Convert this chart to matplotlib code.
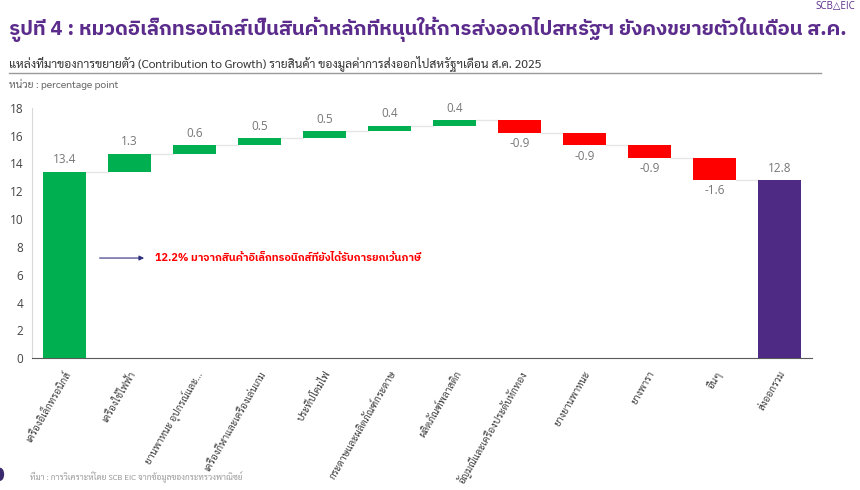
import matplotlib
matplotlib.use('Agg')
import matplotlib.pyplot as plt
from matplotlib.patches import Ellipse
import numpy as np

plt.rcParams['font.family'] = ['Sarabun', 'DejaVu Sans']

# ข้อมูล
categories = ['เครื่องอิเล็กทรอนิกส์', 'เครื่องใช้ไฟฟ้า', 'ยานพาหนะ อุปกรณ์และ...',
              'เครื่องกีฬาและเครื่องเล่นเกม', 'ประทีปโคมไฟ', 'กระดาษและผลิตภัณฑ์กระดาษ',
              'ผลิตภัณฑ์พลาสติก', 'อัญมณีและเครื่องประดับหักทอง', 'ยางยานพาหนะ',
              'ยางพารา', 'อื่นๆ', 'ส่งออกรวม']
values = [13.4, 1.3, 0.6, 0.5, 0.5, 0.4, 0.4, -0.9, -0.9, -0.9, -1.6, 12.8]
value_labels = ['13.4', '1.3', '0.6', '0.5', '0.5', '0.4', '0.4', '-0.9', '-0.9', '-0.9', '-1.6', '12.8']

title = 'รูปที่ 4 : หมวดอิเล็กทรอนิกส์เป็นสินค้าหลักที่หนุนให้การส่งออกไปสหรัฐฯ ยังคงขยายตัวในเดือน ส.ค.'
subtitle = 'แหล่งที่มาของการขยายตัว (Contribution to Growth) รายสินค้า ของมูลค่าการส่งออกไปสหรัฐฯเดือน ส.ค. 2025'
unit = 'หน่วย : percentage point'
note = '12.2% มาจากสินค้าอิเล็กทรอนิกส์ที่ยังได้รับการยกเว้นภาษี'
source = 'ที่มา : การวิเคราะห์โดย SCB EIC จากข้อมูลของกระทรวงพาณิชย์'

green = '#00b050'
red = '#ff0000'
purple = '#4e2a84'
num_font = ['Open Sans', 'DejaVu Sans']
bold_font = ['IBM Plex Sans Thai', 'DejaVu Sans']

fig = plt.figure(figsize=(8.6, 4.9), dpi=100)
ax = fig.add_axes([0.037, 0.269, 0.907, 0.511])

x = np.arange(len(values))
n = len(values)
# หาฐานของแต่ละแท่ง
bottoms = []
tops = []
run = 0.0
for i, v in enumerate(values):
    if i == n - 1:
        bottoms.append(0.0)
        tops.append(v)
    else:
        bottoms.append(min(run, run + v))
        tops.append(max(run, run + v))
        run = run + v
heights = [t - b for t, b in zip(tops, bottoms)]
colors = []
for i, v in enumerate(values):
    if i == n - 1:
        colors.append(purple)
    elif v >= 0:
        colors.append(green)
    else:
        colors.append(red)

w = 0.66
ax.bar(x, heights, bottom=bottoms, width=w, color=colors, zorder=3)

# เส้นเชื่อม
run = 0.0
for i in range(n - 1):
    run = run + values[i]
    ax.plot([x[i] + w / 2, x[i + 1] - w / 2], [run, run], color='#e6e6e6', lw=1, zorder=2)

# ป้ายตัวเลข
for i, v in enumerate(values):
    if v >= 0:
        ax.text(x[i], tops[i] + 0.4, value_labels[i], ha='center', va='bottom', fontsize=8.5,
                color='#777777', family=num_font)
    else:
        ax.text(x[i], bottoms[i] - 0.3, value_labels[i], ha='center', va='top', fontsize=8.5,
                color='#777777', family=num_font)

ax.set_xlim(-0.5, 11.5)
ax.set_ylim(0, 18)
ax.set_yticks(np.arange(0, 19, 2))
ax.tick_params(axis='y', length=0, labelsize=8.5, colors='#444444', pad=6)
for lb in ax.get_yticklabels():
    lb.set_family(num_font)
ax.set_xticks(x)
ax.set_xticklabels(categories, rotation=60, ha='right', rotation_mode='anchor', fontsize=7.2, color='#404040')
ax.tick_params(axis='x', length=0, pad=8)
for s in ['top', 'right']:
    ax.spines[s].set_visible(False)
ax.spines['left'].set_color('#d9d9d9')
ax.spines['bottom'].set_color('#595959')

# คำอธิบาย
ax.annotate('', xy=(1.27, 7.2), xytext=(0.5, 7.2),
            arrowprops=dict(arrowstyle='-|>', color='#2f2f7f', lw=0.8, mutation_scale=7))
ax.text(1.4, 7.2, note, color=red, fontsize=7.8, fontweight='bold', va='center', ha='left', family=bold_font)

fig.text(0.01, 0.94, title, color='#5b2c8c', fontsize=14.7, fontweight='bold', va='center', ha='left',
         family=bold_font)
fig.text(0.995, 0.997, 'SCB△EIC', color='#5b2c8c', fontsize=7, va='top', ha='right', family=num_font)
fig.text(0.01, 0.872, subtitle, color='#333333', fontsize=8.7, va='center', ha='left')
fig.add_artist(plt.Line2D([0.01, 0.955], [0.85, 0.85], color='#999999', lw=1))
fig.text(0.01, 0.828, unit, color='#666666', fontsize=7.5, va='center', ha='left')
fig.text(0.035, 0.027, source, color='#999999', fontsize=6, va='center', ha='left')
fig.add_artist(Ellipse((0.0, 0.032), 0.008, 0.024, transform=fig.transFigure, color='#3b2a6e'))

plt.savefig('out.png', dpi=100)
